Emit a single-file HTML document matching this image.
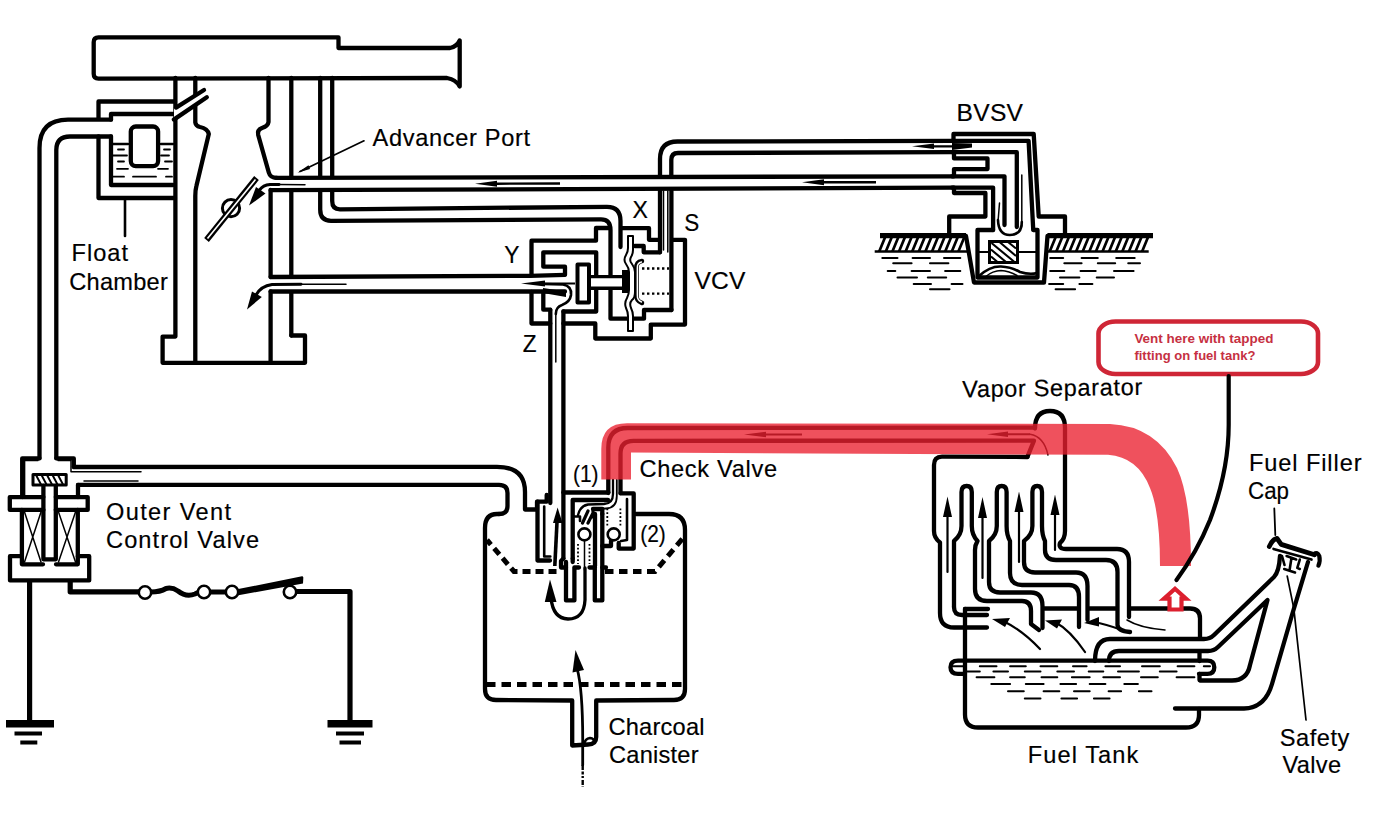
<!DOCTYPE html>
<html lang="en">
<head>
<meta charset="utf-8">
<title>Evaporative emission control diagram</title>
<style>
html,body{margin:0;padding:0;background:#fff;}
body{width:1385px;height:837px;overflow:hidden;}
svg{display:block;}
.l{fill:none;stroke:#000;stroke-width:4.3;stroke-linecap:round;stroke-linejoin:round;}
.m{fill:none;stroke:#000;stroke-width:2.6;stroke-linecap:round;stroke-linejoin:round;}
.t{fill:none;stroke:#000;stroke-width:1.5;stroke-linecap:round;stroke-linejoin:round;}
.w{fill:#fff;stroke:#000;stroke-width:4;stroke-linejoin:round;}
.k{fill:#000;stroke:none;}
text{font-family:"Liberation Sans",sans-serif;font-size:23.6px;fill:#000;letter-spacing:0;stroke:#000;stroke-width:0.18px;}
.r{font-family:"Liberation Sans",sans-serif;font-weight:bold;font-size:12.8px;fill:#c63042;letter-spacing:0;stroke:none;}
</style>
</head>
<body>
<svg width="1385" height="837" viewBox="0 0 1385 837">
<rect x="0" y="0" width="1385" height="837" fill="#fff"/>

<!-- ===== CARBURETOR ===== -->
<g id="carb">
<!-- air horn -->
<path class="l" d="M98.5,37.4 L338.5,37.4 L338.5,48 L450,48 Q457,46.5 459.7,40.5 L459.7,86.5 Q456,79.5 447,78 L98.5,78.6 Q93.7,78.6 93.7,73.8 L93.7,42.2 Q93.7,37.4 98.5,37.4 Z"/>
<!-- left wall -->
<path class="l" d="M175.4,78 L175.4,336.6 L162.6,336.6 L162.6,362.8 L305,362.8 L305,335.5 L291.3,335.5"/>
<path class="l" d="M195.3,78 L195.3,122.5 Q195.8,126 200,127 Q207.5,128.5 208.8,134 L196.4,186 Q195.3,190 195.3,196 L195.3,362.8"/>
<!-- right wall -->
<path class="l" d="M268.5,78 L268.5,122 Q268,126 262,128 Q257,130 258.2,135 L268.8,172.5 Q270.3,178 277,177.9"/>
<path class="l" d="M270.6,190 L270.6,277"/>
<path class="l" d="M270.6,291.5 L270.6,362.8"/>
<path class="l" d="M291.3,78 L291.3,176 M291.3,191 L291.3,276 M291.3,293 L291.3,335.5"/>
<!-- float chamber -->
<path class="l" d="M175,101.5 L98.5,101.5 L98.5,118"/>
<path class="l" d="M173,114 L111,114 L111,119.7"/>
<path class="l" d="M98.5,136.5 L98.5,198 L175,198"/>
<path class="l" d="M111,136.5 L111,185 L173,185"/>
<rect class="l" x="130.8" y="126.5" width="27.3" height="39.6" rx="5" ry="5"/>
<path class="m" d="M113,144 L128,144 M161,144 L173,144"/>
<path class="t" style="stroke-width:1.8" d="M118,149.5 L124,149.5 M164,149.5 L170,149.5 M113,155.5 L127,155.5 M161,155.5 L169,155.5 M118,161.5 L124,161.5 M165,161.5 L172,161.5 M117,168.8 L128,168.8 M158,168.8 L168,168.8 M113,176.7 L124,176.7 M133,176.7 L156,176.7 M166,176.7 L172,176.7"/>
<path class="m" d="M125,198 L125,236"/>
<!-- vent tube diagonals -->
<path d="M174,108.3 L204,89.5 L207,97 L174,119.6 Z" fill="#fff" stroke="none"/>
<path class="l" d="M173.8,119.6 L206.8,97.2 M176,107.6 L204,90"/>
<!-- throttle plate -->
<circle cx="231" cy="208.2" r="8.6" class="w" style="stroke-width:3"/>
<path d="M206.5,240 L256.5,178" stroke="#000" stroke-width="6" fill="none" stroke-linecap="butt"/>
<path d="M207.5,238.5 L255.5,179.5" stroke="#fff" stroke-width="1.6" fill="none" stroke-linecap="butt"/>
</g>

<!-- ===== PIPES ===== -->
<g id="pipes">
<!-- left pipe float chamber -> outer vent valve -->
<path class="l" d="M111,119.7 L68,119.7 Q39.5,119.7 39.5,148 L39.5,458"/>
<path class="l" d="M111,136.5 L70,136.5 Q56.3,136.5 56.3,150 L56.3,458"/>
<!-- pipe 2 : carb -> X port -->
<path class="l" d="M320.2,78 L320.2,176 M320.2,191 L320.2,209.5 Q320.2,220.8 331,220.8 L601,219.4 Q610.5,219.4 610.5,230 L610.5,318.7 L644,318.7 L644,310 L671.5,310"/>
<path class="l" d="M332.2,78 L332.2,176 M332.2,191 L332.2,201 Q332.2,209.3 340,209.3 L607,206.8 Q620.5,206.8 620.5,221 L620.5,247"/>
<!-- pipe 1 : advancer port -> BVSV -->
<path class="l" d="M276,177.9 L953,176.3 M270.6,190.2 L953,187.6"/>
<!-- pipe 3 : Y port -> carb -->
<path class="l" d="M270.6,277 L530,275.8 L565,274.8 M270.6,291.5 L565,291.5"/>
<!-- S pipe -->
<path class="l" d="M660,176 L660,159 Q660,141.5 677.5,141.5 L953,140.8"/>
<path class="l" d="M671.3,176 L671.3,160 Q671.3,153 678,153 L953,152.2"/>
<!-- Z pipe -->
<path class="l" d="M550.3,310 L550.3,503 M563.4,311.5 L563.4,558.6"/>
<path class="t" d="M555.8,314 L555.8,362"/>
<!-- vent pipe valve -> canister -->
<path class="l" d="M73.8,467 L497,466.8 Q525,466.8 525,492 L525,509.5 L537,509.5 L537,501.7 L546.7,501.7 L546.7,495"/>
<path class="l" d="M78,484.9 L499,484.8 Q507.5,484.8 507.5,493 L507.5,506 Q507.5,514 499,514"/>
<!-- flow arrows -->
<path class="k" d="M475,183.7 L497,180.7 L497,182.5 L560,182.3 L560,184.7 L497,184.9 L497,186.7 Z"/>
<path class="k" d="M802,182.3 L824,179.3 L824,181.1 L876,181 L876,183.4 L824,183.5 L824,185.3 Z"/>
<path class="k" d="M912,146.3 L934,143.6 L934,145.2 L962,145.2 L962,147.4 L934,147.4 L934,149 Z"/>
<path class="k" d="M521,283.5 L545,280.5 L545,282.5 L575,282.5 L575,284.5 L545,284.5 L545,286.5 Z"/>
<path class="k" d="M0,0"/>
<!-- carb arrows -->
<path class="t" d="M305,184.8 L278,184.4"/><path class="m" style="stroke-width:3" d="M279,184.4 L270,184.6 Q263,185.2 259.5,190"/>
<path class="k" d="M249,205.5 L256,187 L265.5,193.6 Z"/>
<path class="t" d="M346,284.2 L300,284.2"/><path class="m" style="stroke-width:3" d="M301,284.2 L272,284.5 Q261,286 256,295"/>
<path class="k" d="M247,309.5 L252,291.5 L261.8,297 Z"/>
<!-- advancer leader -->
<path class="t" style="stroke-width:1.7" d="M364,140.8 L300,171.5"/>
<path class="k" d="M297.5,172.8 L308.5,165.3 L310,169 Z"/>
</g>


<!-- ===== OUTER VENT CONTROL VALVE ===== -->
<g id="valve">
<path class="l" d="M39.5,458.4 L22.2,458.4 L22.2,497 M56.3,458.4 L73.8,458.4 L73.8,467 M78,485 L78,497"/>
<path class="t" d="M38,460.6 L24.6,460.6 L24.6,495 M58,460.6 L71,460.6 L71,471.8 L141,471.8 M84,481 L138,481"/>
<rect x="33" y="474.5" width="33.2" height="10.5" class="m" style="fill:#fff;stroke-width:3"/>
<path d="M36,475 L41,484.5 M41.5,475 L46.5,484.5 M47,475 L52,484.5 M52.5,475 L57.5,484.5 M58,475 L63,484.5" fill="none" stroke="#000" stroke-width="1.9"/>
<path class="l" d="M43.4,486 L43.4,559.3 L55.8,559.3 L55.8,486"/>
<path class="l" d="M43.4,497.1 L9.8,497.1 L9.8,509.9 L43.4,509.9 M55.8,509.9 L87.7,509.9 L87.7,497.1 L55.8,497.1"/>
<path class="l" d="M21.9,510 L21.9,564.3 L43,564.3 M56,564.3 L77.8,564.3 L77.8,510"/>
<path class="t" d="M24.5,512 L41,562 M41,512 L24.5,562 M58.5,512 L75.5,562 M75.5,512 L58.5,562"/>
<path class="l" d="M21.9,556.2 L10,556.2 L10,580.4 L89.2,580.4 L89.2,556.2 L77.8,556.2"/>
<!-- wires -->
<path d="M29.6,580 L29.6,722" stroke="#000" stroke-width="5.2" fill="none"/>
<path d="M70.2,580 L70.2,591.8 L139,591.8" stroke="#000" stroke-width="5.2" fill="none" stroke-linejoin="round"/>
<path d="M151,592 Q160,592 166,588.5 Q172,587 178,591 Q186,597.5 195,594 L198,592.5" stroke="#000" stroke-width="5" fill="none"/>
<path d="M210,592 L226,592" stroke="#000" stroke-width="5" fill="none"/>
<path class="k" d="M237,589.3 L302,576.3 Q303.5,576.3 303.3,578 L303,583.5 L237,595.5 Z"/>
<path d="M296,591.5 L350,591.5 L350,722" stroke="#000" stroke-width="5.2" fill="none" stroke-linejoin="round"/>
<circle cx="145" cy="592.5" r="6.2" class="w" style="stroke-width:2.6"/>
<circle cx="204" cy="592" r="6.2" class="w" style="stroke-width:2.6"/>
<circle cx="232" cy="592" r="6.2" class="w" style="stroke-width:2.6"/>
<circle cx="290" cy="592" r="6.2" class="w" style="stroke-width:2.6"/>
<!-- grounds -->
<rect class="k" x="6" y="720" width="48" height="7.5"/>
<rect class="k" x="14.5" y="731.5" width="27.5" height="4"/>
<rect class="k" x="20.3" y="740.5" width="17" height="4"/>
<rect class="k" x="327.5" y="720" width="45" height="7.5"/>
<rect class="k" x="336" y="731.5" width="28" height="4"/>
<rect class="k" x="339.5" y="740.5" width="21.5" height="4"/>
</g>


<!-- ===== CHARCOAL CANISTER ===== -->
<g id="canister">
<path class="l" d="M499,514 L497,514 Q485,514 485,528 L485,689 Q485,700 496,700 L572.2,700.5 L572.2,745.5 L588,744.5 Q596.2,744.5 596.2,737 L596.2,700.5 L674,700 Q685,700 685,689 L685,530 Q685,514 669,514 L636,514"/>
<path d="M487,540 L514,571.5 L561,571.5" fill="none" stroke="#000" stroke-width="5" stroke-dasharray="8 5" stroke-dashoffset="2"/>
<path d="M605,571.5 L655,571.5 L684,537" fill="none" stroke="#000" stroke-width="5" stroke-dasharray="8.5 5.5" stroke-dashoffset="0"/>
<path d="M486,684.5 L684,684.5" fill="none" stroke="#000" stroke-width="5" stroke-dasharray="9.5 6"/>
<!-- bottom arrow -->
<path class="t" style="stroke-width:2.8" d="M582.7,765 L582.7,745 Q583,690 577,668"/><path d="M582.7,765 L582.7,787" fill="none" stroke="#000" stroke-width="2.4" stroke-dasharray="5 1.5 3 1.5 2 2"/>
<path class="k" d="M575.5,650 L572.5,672.5 L584,670 Z"/>
<path class="m" d="M584,744.5 Q585,738.5 590,738 Q594.5,738.5 594,742.5" />
<!-- circular arrow -->
</g>


<!-- ===== CHECK VALVE ===== -->
<g id="checkvalve">
<!-- sleeve around Z pipe -->
<path class="l" d="M537.5,501.7 L537.5,560.5 L550,560.5"/>
<path class="m" d="M544.2,506.5 L544.2,556.5 L550.3,556.5"/>
<!-- up arrow in Z pipe -->
<path d="M557,522 L554.8,566" stroke="#000" stroke-width="3.6" fill="none"/>
<path class="k" d="M557.6,507.5 L553,523 L562.5,523 Z"/>
<!-- housing top -->
<path class="l" d="M563.4,492.5 L608.3,492.5"/>
<path class="l" d="M620.5,493.4 L633.7,493.4 L633.7,548.6 L618.7,548.6 L618.7,543"/>
<path class="m" d="M627,499 L627,540 L621,541"/>
<!-- inner housing -->
<path class="l" d="M608,500 L572.7,500 L572.7,558.6"/>
<path class="m" d="M572.7,516.5 L580,516.5 L580,521"/>
<!-- inner tube from (1) to ball 1 -->
<path class="m" style="stroke-width:2.3" d="M613,480 L613,494 Q613,503.5 604,504 L588,504.5 Q580,506 578,515"/>
<path class="t" style="stroke-width:1.8" d="M616.8,480 L616.8,496 Q616.8,508 606,508.5 L593,509"/>
<path class="l" style="stroke-width:3.2" d="M593,509 L593,517 M588,511 L582.5,523 M593,513 L588,523"/>
<!-- centre divider / dip tube 2 -->
<path class="l" d="M595,514 L595,566 M602.3,514 L602.3,600.4 L594.8,600.4 L594.8,569"/>
<path class="l" d="M593,509 L602.3,509 L602.3,514"/>
<path class="l" d="M589.5,567.5 L595,567.5 M602.3,567.5 L606,567.5 M602.3,546 L611,546 L611,541"/>
<!-- dip tube 1 -->
<path class="l" d="M566,562 L566,600.4 L574.4,600.4 L574.4,569"/>
<path class="l" d="M561,567.5 L566,567.5 M574.4,567.5 L579,567.5 M572.7,558.6 L572.7,562 M563.4,558.6 L561,561 L561,567"/>
<!-- balls -->
<circle cx="584.4" cy="534.4" r="6" class="w" style="stroke-width:2.6"/>
<circle cx="613.7" cy="534.4" r="6" class="w" style="stroke-width:2.6"/>
<!-- springs (dotted) -->
<path d="M578,544 L578,564 M589.5,544 L589.5,564 M607.3,508.5 L607.3,527 M620.4,508.5 L620.4,527" fill="none" stroke="#000" stroke-width="1.8" stroke-dasharray="1.8 2"/>
<!-- circular arrow -->
<path class="t" d="M584.5,541 L584.5,570"/>
<path class="m" d="M585,568 L585,600 Q584,619 568,619 Q553,618.5 551,598" style="stroke-width:3.3"/>
<path class="k" d="M550,579.5 L544.8,602 L556.5,602 Z"/>
</g>
<!-- ===== VCV ===== -->
<g id="vcv">
<!-- outer housing left -->
<path class="l" d="M531.5,275 L531.5,240.7 L596,240.7 L596,228 L610,228"/>
<path class="l" d="M531.5,292 L531.5,323.5 L550.3,323.5"/>
<path class="l" d="M563.4,323.5 L595.3,323.5 L595.3,338.5 L650.8,338.5 L650.8,324.6 L685,324.6 L685,239.8 L672,239.8"/>
<!-- inner housing -->
<path class="l" d="M565,274.5 L565,266.7 L543.3,266.7 L543.3,252.3 L596.2,252.3 L596.2,311.5 L563.4,311.5"/>
<path class="l" d="M543.3,292 L543.3,309.7 L550.3,309.7"/>
<!-- J tube -->
<path class="m" d="M543,284 L563,284.5 Q572,286 571,295 Q570,302 562,305 Q555.8,307 555.8,314"/>
<path class="k" d="M543,288 L566,291.5 L566,297 L543,293 Z"/>
<!-- stem -->
<rect x="589" y="276.6" width="36" height="11.6" fill="#fff" stroke="none"/>
<path class="l" style="stroke-width:3.4" d="M589,276.6 L625,276.6 M589,288.2 L625,288.2"/>
<!-- valve disc -->
<rect x="577.5" y="264.5" width="11.5" height="38" class="w"/>
<!-- diaphragm housing top (stepped) -->
<path class="l" d="M622,228.2 L649,228.2 L649,239.8 L660,239.8 M660,191 L660,252.3"/>
<path class="l" d="M634.7,246 L643.7,246 L643.7,252.3 L660,252.3"/>
<path class="l" d="M671.4,191 L671.4,310"/>
<path class="t" d="M663.5,191 L663.5,250 M667.8,191 L667.8,252"/>
<!-- diaphragm -->
<path d="M628,236 L633,236 L633,250 Q633,254 631,257 Q629,261 632,264 Q635,268 635,272 L635,292 Q635,298 632,300 Q629,303 631,308 Q633,312 633,316 L633,331 L628,331 L628,316 Q628,312 626,308 Q624,303 627,298 Q629,294 629,290 L629,272 Q629,268 626,264 Q623,260 626,255 Q628,252 628,248 Z" fill="#fff" stroke="#000" stroke-width="2" stroke-linejoin="round"/>
<path d="M642,261 Q636,262 636.5,268 L636.5,295 Q636,301 642,303" fill="none" stroke="#000" stroke-width="4.5" stroke-linecap="round"/>
<path d="M641.5,262 Q637,263 637.3,268 L637.3,295 Q637,300 641.5,302" fill="none" stroke="#fff" stroke-width="1.4" stroke-linecap="round"/>
<rect class="k" x="622" y="270" width="6" height="23"/>
<!-- spring dots -->
<path d="M642,268.5 L669,268.5 M642,293.6 L669,293.6" fill="none" stroke="#000" stroke-width="2.4" stroke-dasharray="2.4 2.6"/>
</g>


<!-- ===== BVSV ===== -->
<g id="bvsv">
<!-- ground plane -->
<path d="M880,235.7 L966,235.7 M1047.5,235.7 L1153,235.7" stroke="#000" stroke-width="5.2" fill="none"/>
<path d="M874.7,251.5 L968.5,251.5 M1045.5,251.5 L1148.7,251.5" stroke="#000" stroke-width="2.4" fill="none"/>
<path d="M879.2,251.5 L885.2,237 M885.8,251.5 L891.8,237 M892.4,251.5 L898.4,237 M899.0,251.5 L905.0,237 M905.6,251.5 L911.6,237 M912.2,251.5 L918.2,237 M918.8,251.5 L924.8,237 M925.4,251.5 L931.4,237 M932.0,251.5 L938.0,237 M938.6,251.5 L944.6,237 M945.2,251.5 L951.2,237 M951.8,251.5 L957.8,237 M958.4,251.5 L964.4,237 M1049.7,251.5 L1055.7,237 M1056.3,251.5 L1062.3,237 M1062.9,251.5 L1068.9,237 M1069.5,251.5 L1075.5,237 M1076.1,251.5 L1082.1,237 M1082.7,251.5 L1088.7,237 M1089.3,251.5 L1095.3,237 M1095.9,251.5 L1101.9,237 M1102.5,251.5 L1108.5,237 M1109.1,251.5 L1115.1,237 M1115.7,251.5 L1121.7,237 M1122.3,251.5 L1128.3,237 M1128.9,251.5 L1134.9,237 M1135.5,251.5 L1141.5,237 M1142.1,251.5 L1148.1,237" stroke="#000" stroke-width="2.7" fill="none"/>
<path d="M882.3,257.9 L897.5,257.9 M912.6,257.9 L930,257.9 M944,257.9 L960.3,257.9 M1050.2,257.9 L1063.2,257.9 M1081.6,257.9 L1097.8,257.9 M1116.2,257.9 L1134.7,257.9 M893.2,263.3 L911.6,263.3 M930,263.3 L948.4,263.3 M1064.3,263.3 L1081.6,263.3 M1097.8,263.3 L1115.2,263.3 M1128.2,263.3 L1140,263.3 M887.7,270.9 L895.3,270.9 M911.6,270.9 L930,270.9 M945.1,270.9 L960.3,270.9 M1050.2,270.9 L1064.3,270.9 M1080.5,270.9 L1095.7,270.9 M1114,270.9 L1133.6,270.9 M897.5,277.4 L917,277.4 M927.8,277.4 L946.2,277.4 M1060,277.4 L1079.4,277.4 M1096.7,277.4 L1114,277.4 M913.7,283.9 L931,283.9 M951.6,283.9 L962.5,283.9 M1049.1,283.9 L1063.2,283.9 M1079.4,283.9 L1092.4,283.9 M930,289.3 L949.5,289.3 M1055.6,289.3 L1075.1,289.3" stroke="#000" stroke-width="2" fill="none" stroke-linecap="round"/>
<!-- housing -->
<path class="l" d="M953.5,141 L953.5,134 L1033.7,134 L1038.7,216.5 L1065,216.5 L1065,234"/>
<path class="l" d="M954,152.2 L954,158.4 L987.5,158.4 L987.5,169.1 L954,169.1 L954,176.3"/>
<path class="l" d="M954,187.6 L954,193 L985.4,193 L985.4,216.5 L949.2,216.5 L949.2,234"/>
<!-- inner passages -->
<path class="l" d="M952,140.8 L1028.6,140.8 L1033.2,229"/>
<path class="l" d="M952,152.2 L1016.8,152.2 L1016.8,227"/>
<path class="l" d="M952,176.3 L1004.5,176.3 L1004.5,225"/>
<path class="l" d="M952,187.6 L993.1,187.6 L993.1,230"/>
<path class="t" d="M1021.8,175 L1021.8,226 M999.5,203 L998,222"/>
<path class="m" d="M998,220 Q998.5,235 1009.8,235 Q1021.8,235 1021.8,222"/>
<!-- lower chamber -->
<path class="l" d="M966,236 L974,282.5 L1044,282.5 L1047.5,236"/>
<path class="l" d="M993.1,230 L977.5,230 L977.5,277.5 L1037.5,277.5 L1037.5,230 L1033.2,230"/>
<path class="t" style="stroke-width:1.8" d="M977,252 L1038,252"/>
<rect x="989.5" y="241.5" width="28" height="21" fill="#fff" stroke="#000" stroke-width="3"/>
<path d="M1016,248.5 L1008,242 M1016,256 L999.5,242 M1014.5,262 L991.5,243 M1006,262 L991,249.5 M997.5,262 L991,256.5" fill="none" stroke="#000" stroke-width="2.1"/>
<path class="m" d="M979,276 Q990,266 1001,266.5 Q1011,267 1020,272 Q1030,275 1037,273"/>
<path class="t" d="M985,277 Q993,270.5 1001,270.5 Q1009,271 1017,275.5"/>
<!-- arrow tails into ports -->
<path class="k" d="M952,143 L972,143.5 L972,147.5 L952,150 Z"/>
</g>


<!-- ===== VAPOR SEPARATOR + FUEL TANK ===== -->
<g id="tank">
<!-- check valve -> separator pipe (black, under red) -->
<path class="l" d="M608.3,493 L608.3,447.5 Q608.3,428 628,428 L1035,427.6"/>
<path class="l" d="M620.5,493 L620.5,453.5 Q620.5,440.8 633.5,440.8 L1034,440.6 L1027.5,456.6"/>
<path class="k" d="M987,434.2 L1008,431.5 L1008,433.2 L1030,433.2 L1030,435.2 L1008,435.2 L1008,437 Z"/>
<path class="k" d="M744,434.5 L766,431.8 L766,433.4 L802,433.4 L802,435.6 L766,435.6 L766,437.2 Z"/>
<path class="t" d="M1030,434.2 Q1044,436.5 1048,455"/>
<!-- separator body -->
<path class="l" d="M1027.5,457 L942,456.6 Q934,456.6 934,465 L934,531 Q934,538 940,542.5 L940,613 Q940,627.5 954,627.5 L987,627.5"/>
<path class="l" d="M1035,428.5 Q1035,411 1050,411 Q1065,411 1065,428 L1065,531 Q1065,539 1060,543 Q1058,549 1066,549 L1117,549 Q1129,549 1129,562 L1129,617"/>
<!-- fingers -->
<path class="l" d="M954,607 L954,541 Q961.5,535 961.5,526 L961.5,492 Q961.5,486 966.7,486 Q971.8,486 971.8,492 L971.8,526 Q971.8,535 977.5,541 Q975,545 975,550 L975,589 Q975,601 987,601 L1022,601 Q1031,601 1031,611 L1031,624 L1039,630"/>
<path class="l" d="M954,607 Q954,615 962,615 L987,615"/>
<path class="l" d="M1042.5,628 L1042.5,606 Q1042.5,592.5 1031,592.5 L1000,592.5 Q989,592.5 989,582 L989,541 Q996.8,535 996.8,526 L996.8,492 Q996.8,486 1001.7,486 Q1006.6,486 1006.6,492 L1006.6,526 Q1006.6,535 1010,541 L1010,573 Q1010,585 1022,585 L1069,585 Q1079,585 1079,597 L1079,627"/>
<path class="l" d="M1087.5,620 L1087.5,586 Q1087.5,572.5 1076,572.5 L1035,572.5 Q1024,572.5 1024,562 L1024,541 Q1032.4,535 1032.4,526 L1032.4,492 Q1032.4,486 1037.2,486 Q1042,486 1042,492 L1042,526 Q1042,535 1045,541 L1045,550 Q1045,560 1056,560 L1106,560 Q1117.5,560 1117.5,572 L1117.5,625 Q1118,631 1130,632"/>
<!-- up arrows -->
<path class="m" style="stroke-width:2.2" d="M947.5,572 L947.5,508 M982.5,578 L982.5,508 M1019,562 L1019,505 M1055,550 L1055,505"/>
<path class="k" d="M947.5,496.5 L943,517 L952,517 Z M982.5,497 L978,518 L987,518 Z M1019,491.5 L1014.5,512 L1023.5,512 Z M1055,494.5 L1050.5,515 L1059.5,515 Z"/>
<!-- tank -->
<path class="l" d="M965,609 L988,609 M1044.5,608.5 L1077,608.5 M1089.5,608.5 L1115.5,608.5 M1131,608.5 L1190,608.5 Q1200,608.5 1200,618.5 L1200,637"/>
<path class="l" d="M965,609 L965,714.5 Q965,727.5 978,727.5 L1186,727.5 Q1199,727.5 1199,715 L1199,709"/>
<path class="l" d="M1199.5,652 L1199.5,661 M1199.5,674 L1199.5,680"/>
<path class="l" d="M965,673.8 L958,673.8 Q950.5,673.8 950.5,667.2 Q950.5,660.6 958,660.6 L1207.5,660.6 Q1214.3,660.6 1214.3,667.2 Q1214.3,673.8 1207.5,673.8 L1199,673.8"/>
<!-- filler neck -->
<path class="l" d="M1095,661 Q1095,639 1110,639 L1204,639 Q1210,639 1214,635 L1274,577 Q1279,572 1280,556"/>
<path class="l" d="M1109,661 Q1109,651 1119,651 L1208,651 Q1214,651 1218,647 L1267.5,600 L1250,665 Q1247,680.5 1232,680.5 L1200,680.5"/>
<path class="l" d="M1175,708.5 L1244,708.5 Q1265,708 1272,684 L1292,615 L1308,562"/>
<!-- cap -->
<path d="M1269.3,546.5 Q1272,539.5 1277,538.3 L1281.2,544.4 L1314.5,554.8" fill="none" stroke="#000" stroke-width="4.8" stroke-linecap="round" stroke-linejoin="round"/>
<path d="M1314,554 Q1317.5,551.5 1319.3,556 Q1320.5,561 1318.4,565.6" fill="none" stroke="#000" stroke-width="4.2" stroke-linecap="round"/>
<path class="m" d="M1273.5,548.9 L1311.5,559.6"/>
<path class="m" d="M1291.4,558.4 L1289.6,570 M1286.6,556 L1296.2,559.5 M1284.2,569 L1295,572.5 M1299.8,559.6 L1297.3,567.8 L1299.8,569 M1282,556 L1284.5,565"/>
<!-- leaders -->
<path class="t" d="M1274.3,508.5 L1275.3,535" style="stroke-width:1.8"/>
<path class="t" d="M1287.2,576 L1293.8,608.4 L1306,720" style="stroke-width:1.7"/>
<!-- fuel dashes -->
<path d="M952.6,666.3 L963,666.3 M979.8,666.3 L996.5,666.3 M1010.1,666.3 L1025.8,666.3 M1040.5,666.3 L1057.3,666.3 M1073,666.3 L1086.6,666.3 M1105.4,666.3 L1120,666.3 M1142,666.3 L1159.8,666.3 M1177.6,666.3 L1194.4,666.3 M1203.8,666.3 L1210,666.3 M967.2,671.6 L979.8,671.6 M993.4,671.6 L1008,671.6 M1024.8,671.6 L1040.5,671.6 M1057.3,671.6 L1074,671.6 M1088.7,671.6 L1103.3,671.6 M1118,671.6 L1138.9,671.6 M1159.8,671.6 L1176.6,671.6 M976.6,677.2 L994.4,677.2 M1010.1,677.2 L1024.8,677.2 M1041.5,677.2 L1057.3,677.2 M1071.9,677.2 L1089.7,677.2 M1103.3,677.2 L1120,677.2 M1141,677.2 L1157.8,677.2 M1176.6,677.2 L1194.4,677.2 M991.3,683.9 L1010.1,683.9 M1025.8,683.9 L1043.6,683.9 M1060.4,683.9 L1076.1,683.9 M1089.7,683.9 L1105.4,683.9 M1124.3,683.9 L1137.9,683.9 M1008,691.2 L1023.8,691.2 M1043.6,691.2 L1059.3,691.2 M1074,691.2 L1089.7,691.2 M1108.6,691.2 L1121.1,691.2 M1138.9,691.2 L1151.5,691.2 M1024.8,698.6 L1040.5,698.6 M1061.4,698.6 L1077.1,698.6 M1093.9,698.6 L1109.6,698.6" fill="none" stroke="#000" stroke-width="2" stroke-linecap="round"/>
<!-- curved arrows in tank -->
<path class="m" style="stroke-width:2.2" d="M1040,649 Q1022,630 1003,621 M1085,652 Q1070,630 1055,622 M1122,630 Q1105,624 1094,622"/><path class="t" d="M1165,630 Q1140,628 1127,620"/>
<path class="k" d="M992,619 L1010,618 L1005,627 Z M1045,620.5 L1062,619.5 L1057,628.5 Z M1084,623 L1099,617 L1099,626.5 Z"/>
</g>


<!-- ===== RED ANNOTATIONS ===== -->
<g id="red">
<path d="M601.3,479.5 L601.3,449 Q601.3,423.3 627,423.3 L1110,424 Q1156,426 1177,468 Q1191,498 1191,566 L1160,566 Q1160,512 1150,488 Q1138,457 1108,454.8 L631,452.6 L631,479.5 Z" fill="#ea2030" fill-opacity="0.78" stroke="none"/>
<!-- callout -->
<rect x="1098.5" y="321.5" width="219.5" height="52.5" rx="17" ry="12" fill="#fff" stroke="#cf2636" stroke-width="4.6"/>
<path d="M1228.7,376 L1228.7,425 Q1228.7,470 1210,520 Q1197,552 1176.5,580" fill="none" stroke="#000" stroke-width="4.2" stroke-linecap="round"/>
<path d="M1175,588.8 L1186,598.6 L1181.5,598.6 L1181.5,609.5 L1169.5,609.5 L1169.5,598.6 L1164,598.6 Z" fill="#fff" stroke="#dc1f2e" stroke-width="4.2" stroke-linejoin="miter"/>
</g>


<!-- ===== TEXT ===== -->
<g id="labels">
<text x="372.5" y="146" textLength="157.5" lengthAdjust="spacing">Advancer Port</text>
<text x="71.5" y="261" textLength="56.5" lengthAdjust="spacing">Float</text>
<text x="69.3" y="289.6" textLength="98.5" lengthAdjust="spacing">Chamber</text>
<text x="106" y="519.8" textLength="125" lengthAdjust="spacing">Outer Vent</text>
<text x="106" y="547.7" textLength="153" lengthAdjust="spacing">Control Valve</text>
<text x="504.2" y="263" textLength="15.2" lengthAdjust="spacingAndGlyphs" style="font-size:24.6px">Y</text>
<text x="522.8" y="351.6" textLength="13.8" lengthAdjust="spacingAndGlyphs" style="font-size:24.6px">Z</text>
<text x="632.6" y="218.3" textLength="15.4" lengthAdjust="spacingAndGlyphs" style="font-size:24.6px">X</text>
<text x="684.2" y="231.4" textLength="15" lengthAdjust="spacingAndGlyphs" style="font-size:24.6px">S</text>
<text x="694.5" y="289.2" textLength="51" lengthAdjust="spacing" style="font-size:24.6px">VCV</text>
<text x="956.5" y="120.6" textLength="66.5" lengthAdjust="spacing" style="font-size:24.6px">BVSV</text>
<text x="639.5" y="476.5" textLength="137.5" lengthAdjust="spacing">Check Valve</text>
<text x="573" y="481.7" textLength="25.5" lengthAdjust="spacingAndGlyphs">(1)</text>
<text x="640.3" y="542" textLength="25.5" lengthAdjust="spacingAndGlyphs">(2)</text>
<text x="962.3" y="397.2" textLength="180" lengthAdjust="spacing" transform="rotate(-0.7 962.3 397.2)">Vapor Separator</text>
<text x="1249" y="471" textLength="112.5" lengthAdjust="spacing">Fuel Filler</text>
<text x="1248" y="498.6" textLength="41" lengthAdjust="spacingAndGlyphs">Cap</text>
<text x="1027.8" y="762.5" textLength="110.5" lengthAdjust="spacing">Fuel Tank</text>
<text x="1279.8" y="746.3" textLength="69.5" lengthAdjust="spacing">Safety</text>
<text x="1282.5" y="772.8" textLength="58.5" lengthAdjust="spacing">Valve</text>
<text x="608.5" y="735.3" textLength="96" lengthAdjust="spacing">Charcoal</text>
<text x="609" y="763" textLength="89.5" lengthAdjust="spacing">Canister</text>
<text class="r" x="1134.4" y="342.5" textLength="139" lengthAdjust="spacingAndGlyphs">Vent here with tapped</text>
<text class="r" x="1134.4" y="360.4" textLength="121" lengthAdjust="spacingAndGlyphs">fitting on fuel tank?</text>
</g>


</svg>
</body>
</html>
